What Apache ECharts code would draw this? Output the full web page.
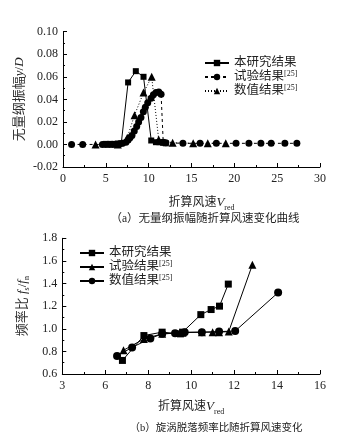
<!DOCTYPE html>
<html><head><meta charset="utf-8">
<script src="https://cdn.jsdelivr.net/npm/echarts@6/dist/echarts.min.js"></script>
<style>html,body{margin:0;padding:0;background:#fff}#c{width:346px;height:444px}</style>
</head><body><div id="c"></div>
<script>
// ---------- (a) amplitude chart ----------
const aOursX = [5.0, 5.5, 6.0, 6.4, 6.8, 7.6, 8.5, 9.4, 10.3, 10.85, 11.25, 11.65, 12.0];
const aOursY = [0.0005, 0.0005, 0.0005, 0.0008, 0.001, 0.055, 0.065, 0.060, 0.0035, 0.002, 0.002, 0.0015, 0.001];
const aTestX = [1.0, 2.3, 4.6, 5.0, 5.4, 5.8, 6.2, 6.6, 6.95, 7.35, 7.6, 7.82, 8.05, 8.32, 8.6, 8.83, 9.1, 9.38, 9.61, 9.89, 10.28, 10.55, 10.86, 11.18, 11.45, 11.7, 12.0, 14.0, 16.0, 17.9, 20.2, 21.7, 23.1, 24.3, 25.9, 27.3];
const aTestY = [0, 0, 0, 0, 0, 0, 0, 0.0005, 0.001, 0.002, 0.004, 0.006, 0.008, 0.012, 0.016, 0.020, 0.024, 0.029, 0.033, 0.037, 0.041, 0.044, 0.046, 0.0465, 0.0445, 0.002, 0.0015, 0.001, 0.001, 0.001, 0.001, 0.001, 0.001, 0.001, 0.001, 0.001];
const aNumX = [3.8, 6.4, 7.5, 8.35, 9.4, 10.35, 11.17, 12.8, 15.2, 16.9, 19.0];
const aNumY = [0, 0, 0.006, 0.026, 0.046, 0.060, 0.0045, 0.0015, 0.001, 0.001, 0.001];
const aXTicks = [0, 5, 10, 15, 20, 25, 30];
const aYTicks = [-0.02, 0, 0.02, 0.04, 0.06, 0.08, 0.10];

// ---------- (b) frequency ratio chart ----------
const bOursX = [6.8, 7.8, 8.65, 9.5, 9.6, 10.45, 10.93, 11.32, 11.73];
const bOursY = [0.72, 0.94, 0.97, 0.955, 0.97, 1.125, 1.17, 1.2, 1.395];
const bTestX = [6.85, 7.8, 8.65, 9.6, 10.5, 11.0, 11.3, 11.75, 12.85];
const bTestY = [0.81, 0.91, 0.955, 0.965, 0.97, 0.97, 0.97, 0.975, 1.565];
const bNumX = [6.55, 7.25, 8.1, 8.65, 9.25, 9.7, 10.5, 11.3, 12.05, 14.05];
const bNumY = [0.76, 0.835, 0.915, 0.955, 0.96, 0.97, 0.97, 0.975, 0.98, 1.32];
const bXTickValues = [4, 6, 8, 10, 12, 14, 16];
const bXTickLabels = ['3', '6', '8', '10', '12', '14', '16'];
const bYTicks = [0.6, 0.8, 1.0, 1.2, 1.4, 1.6, 1.8];

const names = ['本研究结果', '试验结果[25]', '数值结果[25]'];

const zip = (xs, ys) => xs.map((x, i) => [x, ys[i]]);
const FF = "'Liberation Serif','Noto Sans CJK SC',serif";
const TXT = '#222';
const rich = {
  v: {fontStyle: 'italic', fontFamily: FF, fontSize: 13, color: TXT, lineHeight: 18, verticalAlign: 'middle'},
  i: {fontStyle: 'italic', fontFamily: FF, fontSize: 13, color: TXT, lineHeight: 18},
  sub: {fontFamily: FF, fontSize: 8, color: TXT, verticalAlign: 'bottom', lineHeight: 14},
  n: {fontFamily: FF, fontSize: 13, color: TXT, lineHeight: 18},
  sup: {fontFamily: FF, fontSize: 8, color: TXT, verticalAlign: 'top', lineHeight: 14}
};
const baseAxis = {
  axisLine: {show: true, onZero: false, lineStyle: {color: '#000', width: 1}},
  axisTick: {show: true, inside: true, length: 4, lineStyle: {color: '#000'}},
  minorTick: {show: true, splitNumber: 2, length: 2, lineStyle: {color: '#000'}},
  splitLine: {show: false},
  axisLabel: {color: TXT, fontSize: 12, fontFamily: FF},
  nameMoveOverlap: false,
  nameTextStyle: {color: TXT, fontSize: 12, fontFamily: FF, rich: rich}
};
const legendFmt = n => n.replace(/^b:/, '').replace('[25]', '{sup|[25]}');

const chart = echarts.init(document.getElementById('c'), null, {renderer: 'canvas'});
chart.setOption({
  backgroundColor: '#fff',
  animation: false,
  grid: [
    {left: 63, top: 31.7, width: 257, height: 135.3},
    {left: 62.3, top: 238.3, width: 257.7, height: 135.7}
  ],
  xAxis: [
    Object.assign({}, baseAxis, {
      gridIndex: 0, type: 'value', min: aXTicks[0], max: aXTicks[aXTicks.length - 1], interval: 5,
      name: '折算风速{v|V}{sub|red}', nameLocation: 'middle', nameGap: 27,
      nameTextStyle: Object.assign({}, baseAxis.nameTextStyle, {padding: [0, 0, 0, 20]}),
      axisLabel: Object.assign({}, baseAxis.axisLabel, {margin: 6})
    }),
    Object.assign({}, baseAxis, {
      gridIndex: 1, type: 'value', min: bXTickValues[0], max: bXTickValues[bXTickValues.length - 1], interval: 2,
      minorTick: Object.assign({}, baseAxis.minorTick, {splitNumber: 2}),
      name: '折算风速{v|V}{sub|red}', nameLocation: 'middle', nameGap: 24,
      axisLabel: Object.assign({}, baseAxis.axisLabel, {margin: 6,
        formatter: v => { const k = bXTickValues.indexOf(Math.round(v)); return k >= 0 ? bXTickLabels[k] : ''; }})
    })
  ],
  yAxis: [
    Object.assign({}, baseAxis, {
      gridIndex: 0, type: 'value', min: aYTicks[0], max: aYTicks[aYTicks.length - 1], interval: 0.02,
      name: '无量纲振幅{i|y}{n|/}{i|D}', nameLocation: 'middle', nameRotate: 90, nameGap: 34,
      nameTextStyle: Object.assign({}, baseAxis.nameTextStyle, {fontSize: 13, color: '#333'}),
      axisLabel: Object.assign({}, baseAxis.axisLabel, {margin: 5, formatter: v => v.toFixed(2)})
    }),
    Object.assign({}, baseAxis, {
      gridIndex: 1, type: 'value', min: bYTicks[0], max: bYTicks[bYTicks.length - 1], interval: 0.2,
      name: '频率比 {i|f}{sub|s}{n|/}{i|f}{sub|n}', nameLocation: 'middle', nameRotate: 90, nameGap: 31,
      nameTextStyle: Object.assign({}, baseAxis.nameTextStyle, {fontSize: 13, color: '#333'}),
      axisLabel: Object.assign({}, baseAxis.axisLabel, {margin: 5, formatter: v => v.toFixed(1)})
    })
  ],
  legend: [
    {
      orient: 'vertical', left: 204, top: 56, padding: 0, itemWidth: 24, itemHeight: 8, itemGap: 0,
      data: names, formatter: legendFmt,
      textStyle: {color: TXT, fontSize: 12.5, fontFamily: FF, lineHeight: 14, rich: rich}
    },
    {
      orient: 'vertical', left: 79, top: 246, padding: 0, itemWidth: 24, itemHeight: 8, itemGap: 0,
      data: names.map(n => 'b:' + n), formatter: legendFmt,
      textStyle: {color: TXT, fontSize: 12.5, fontFamily: FF, lineHeight: 14, rich: rich}
    }
  ],
  graphic: [
    {type: 'text', x: 205, y: 219, style: {text: '（a）无量纲振幅随折算风速变化曲线', fontSize: 11.5, fontFamily: FF, fill: TXT, align: 'center', verticalAlign: 'middle'}},
    {type: 'text', x: 216, y: 428, style: {text: '（b）旋涡脱落频率比随折算风速变化', fontSize: 10.5, fontFamily: FF, fill: TXT, align: 'center', verticalAlign: 'middle'}}
  ],
  series: [
    {name: names[0], type: 'line', xAxisIndex: 0, yAxisIndex: 0, data: zip(aOursX, aOursY),
     symbol: 'rect', symbolSize: 6, itemStyle: {color: '#000'}, lineStyle: {color: '#000', width: 1, type: 'solid'}},
    {name: names[1], type: 'line', xAxisIndex: 0, yAxisIndex: 0, data: zip(aTestX, aTestY),
     symbol: 'circle', symbolSize: 7, itemStyle: {color: '#000'}, lineStyle: {color: '#000', width: 1, type: [3, 3]}},
    {name: names[2], type: 'line', xAxisIndex: 0, yAxisIndex: 0, data: zip(aNumX, aNumY),
     symbol: 'triangle', symbolSize: 8, itemStyle: {color: '#000'}, lineStyle: {color: '#000', width: 1, type: [1, 2]}},
    {name: 'b:' + names[0], type: 'line', xAxisIndex: 1, yAxisIndex: 1, data: zip(bOursX, bOursY),
     symbol: 'rect', symbolSize: 7, itemStyle: {color: '#000'}, lineStyle: {color: '#000', width: 1}},
    {name: 'b:' + names[1], type: 'line', xAxisIndex: 1, yAxisIndex: 1, data: zip(bTestX, bTestY),
     symbol: 'triangle', symbolSize: 8, itemStyle: {color: '#000'}, lineStyle: {color: '#000', width: 1}},
    {name: 'b:' + names[2], type: 'line', xAxisIndex: 1, yAxisIndex: 1, data: zip(bNumX, bNumY),
     symbol: 'circle', symbolSize: 8, itemStyle: {color: '#000'}, lineStyle: {color: '#000', width: 1}}
  ]
});
</script></body></html>
